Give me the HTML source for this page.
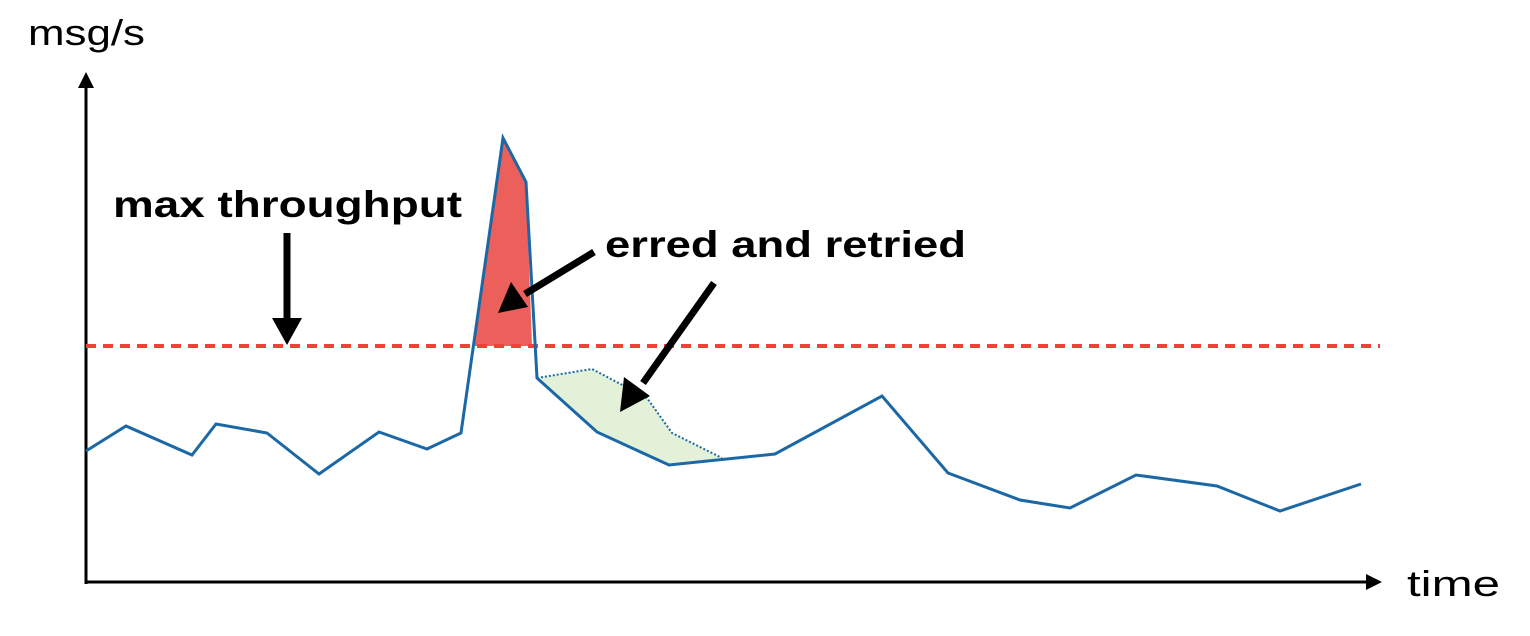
<!DOCTYPE html>
<html><head><meta charset="utf-8"><style>html,body{margin:0;padding:0;background:#fff}svg{display:block}</style></head>
<body>
<svg width="1530" height="636" viewBox="0 0 1530 636" xmlns="http://www.w3.org/2000/svg">
<text x="28" y="45" font-family="Liberation Sans, sans-serif" font-size="36" fill="#000" textLength="117" lengthAdjust="spacingAndGlyphs">msg/s</text>
<text x="1407" y="596" font-family="Liberation Sans, sans-serif" font-size="36" fill="#000" textLength="93" lengthAdjust="spacingAndGlyphs">time</text>
<text x="113" y="217" font-family="Liberation Sans, sans-serif" font-size="37" font-weight="bold" fill="#000" textLength="349" lengthAdjust="spacingAndGlyphs">max throughput</text>
<text x="605" y="257" font-family="Liberation Sans, sans-serif" font-size="37" font-weight="bold" fill="#000" textLength="361" lengthAdjust="spacingAndGlyphs">erred and retried</text>
<line x1="86" y1="86" x2="86" y2="584" stroke="#000" stroke-width="3"/>
<polygon points="86,72 78,88 94,88" fill="#000"/>
<line x1="85" y1="582" x2="1368" y2="582" stroke="#000" stroke-width="3"/>
<polygon points="1382,582 1366,574 1366,590" fill="#000"/>
<polygon points="473,346 503,138 526,182 532,346" fill="#eb605b"/>
<polygon points="537,378 592,369 647,398 672,433 722,458 669,465 597,432" fill="#e3f1d9"/>
<polyline points="537,378 592,369 647,398 672,433 722,458" fill="none" stroke="#1c68a6" stroke-width="2" stroke-dasharray="2,2"/>
<line x1="86" y1="346" x2="1380" y2="346" stroke="#ef4136" stroke-width="4" stroke-dasharray="10,7"/>
<polyline points="86,451 126,426 192,455 216,424 267,433 319,474 379,432 427,449 461,433 503,138 526,182 537,378 597,432 669,465 775,454 882,396 948,473 1020,500 1070,508 1136,475 1217,486 1280,511 1361,484" fill="none" stroke="#1c68a6" stroke-width="3"/>
<line x1="287" y1="233" x2="287" y2="322" stroke="#000" stroke-width="7"/>
<polygon points="272,318 302,318 287,345" fill="#000"/>
<line x1="594" y1="252" x2="525" y2="294" stroke="#000" stroke-width="7"/>
<polygon points="498,313 511,282 528,307" fill="#000"/>
<line x1="714" y1="283" x2="643" y2="383" stroke="#000" stroke-width="7"/>
<polygon points="620,412 624,377 650,396" fill="#000"/>
</svg>
</body></html>
